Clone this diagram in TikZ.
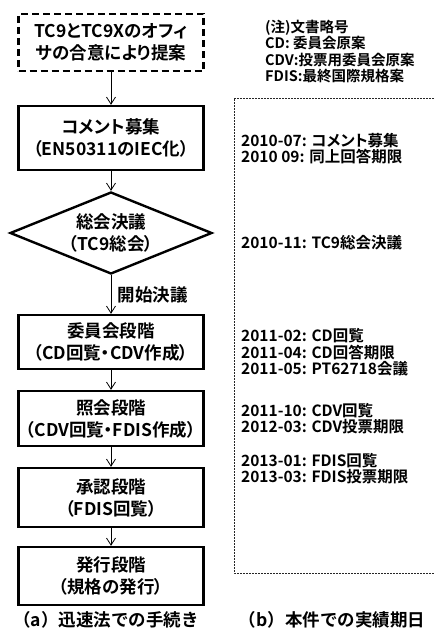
\documentclass[tikz,border=0pt]{standalone}
\usepackage{fontspec}
\newfontfamily\jp{Noto Sans CJK JP}[BoldFont={Noto Sans CJK JP Bold}]
\newfontfamily\jpp{Noto Sans CJK JP}[BoldFont={Noto Sans CJK JP Bold}, RawFeature={+palt}]
\usetikzlibrary{shapes.geometric,arrows.meta}
\begin{document}
\begin{tikzpicture}[x=1pt,y=-1pt,
  boxtext/.style={font=\jpp\bfseries\fontsize{17.5}{22}\selectfont, align=center},
  stepbox/.style={boxtext, draw, line width=2.4pt, minimum width=185pt, inner sep=0pt},
  dashbox/.style={stepbox, dash pattern=on 7pt off 4pt},
  decide/.style={diamond, draw, line width=2.4pt, minimum width=202pt, minimum height=82pt, inner sep=0pt},
  arr/.style={line width=0.8pt, -{Straight Barb[length=7pt,width=9pt,line width=0.8pt]}},
  datetext/.style={font=\jpp\bfseries\fontsize{15.5}{16.5}\selectfont, align=left, anchor=west, inner sep=0pt},
  notetext/.style={font=\jpp\bfseries\fontsize{14.5}{16.4}\selectfont, align=left, anchor=west, inner sep=0pt},
  captext/.style={font=\jp\bfseries\fontsize{17.5}{20}\selectfont, inner sep=0pt},
  frame/.style={line width=0.6pt, black!85, dash pattern=on 2pt off 1pt}
]
\useasboundingbox (0,0) rectangle (435,636);

% left column
\node[dashbox, minimum height=57pt] (p) at (111,42.5) {TC9とTC9Xのオフィ\\サの合意により提案};
\node[stepbox, minimum height=64pt] (c) at (111,138) {コメント募集\\（EN50311のIEC化）};
\node[decide] (g) at (111,233) {};
\node[boxtext] (gt) at (g) {総会決議\\（TC9総会）};
\node[stepbox, minimum height=54pt] (s1) at (111,342) {委員会段階\\（CD回覧・CDV作成）};
\node[stepbox, minimum height=55pt] (s2) at (111,418.5) {照会段階\\（CDV回覧・FDIS作成）};
\node[stepbox, minimum height=59pt] (s3) at (111,497.5) {承認段階\\（FDIS回覧）};
\node[stepbox, minimum height=58pt] (s4) at (111,576) {発行段階\\（規格の発行）};

\draw[arr] (p) -- (c);
\draw[arr] (c) -- (g);
\draw[arr] (g) -- node[boxtext, right, xshift=3pt] (lbl) {開始決議} (s1);
\draw[arr] (s1) -- (s2);
\draw[arr] (s2) -- (s3);
\draw[arr] (s3) -- (s4);

% right column
\node[notetext] (notes) at (265,51.5) {(注)文書略号\\CD: 委員会原案\\CDV:投票用委員会原案\\FDIS:最終国際規格案};

\coordinate (fr1) at (437,98);
\coordinate (fr2) at (234,98);
\coordinate (fr3) at (234,573);
\coordinate (fr4) at (437,573);
\draw[frame] (fr1) -- (fr2) -- (fr3) -- (fr4);

\node[datetext] (d1) at (241,148.5) {2010-07: コメント募集\\2010 09: 同上回答期限};
\node[datetext] (d2) at (241,243) {2010-11: TC9総会決議};
\node[datetext] (d3) at (241,352.5) {2011-02: CD回覧\\2011-04: CD回答期限\\2011-05: PT62718会議};
\node[datetext] (d4) at (241,418.5) {2011-10: CDV回覧\\2012-03: CDV投票期限};
\node[datetext] (d5) at (241,468.5) {2013-01: FDIS回覧\\2013-03: FDIS投票期限};

% captions
\node[captext] (capa) at (106,620) {（a）迅速法での手続き};
\node[captext] (capb) at (332,620) {（b）本件での実績期日};
\end{tikzpicture}
\end{document}
